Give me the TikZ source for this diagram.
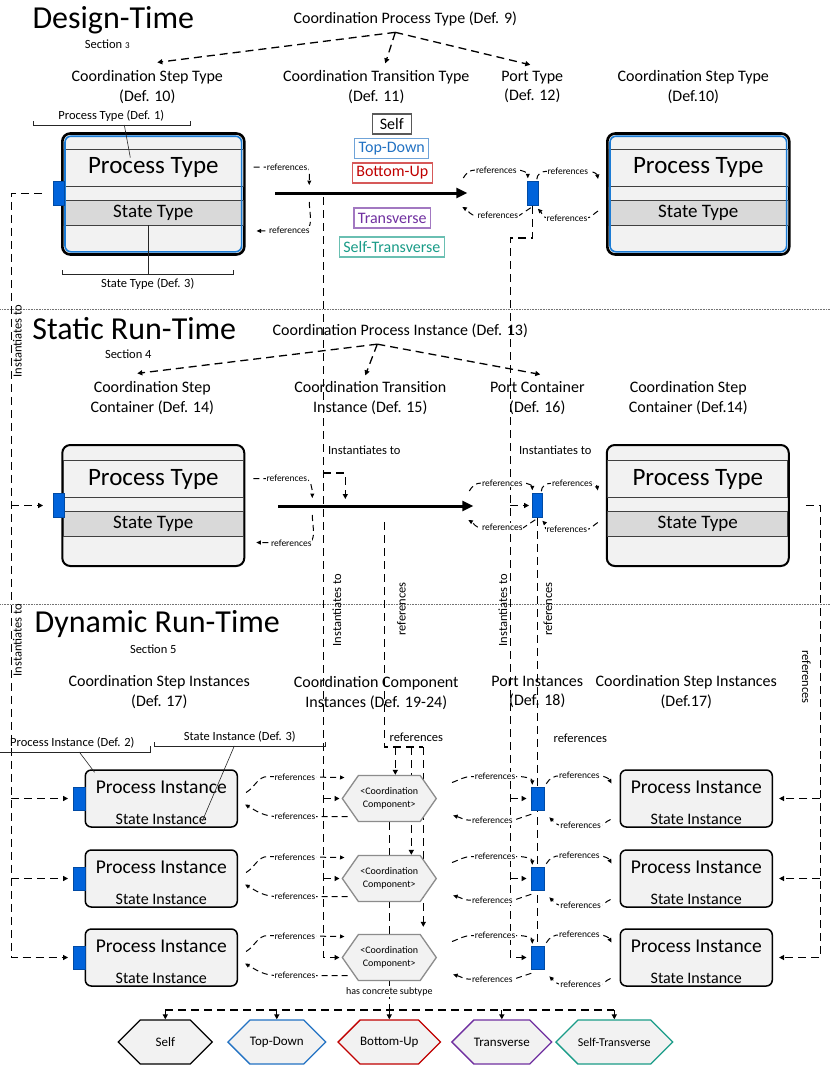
\documentclass[tikz,border=0pt]{standalone}
\usepackage{fontspec}
\setmainfont{Carlito}
\usetikzlibrary{positioning,arrows.meta,shapes.geometric,shapes.symbols,calc,backgrounds}
\definecolor{PortBlue}{HTML}{0063DB}
\definecolor{BoxFill}{HTML}{F2F2F2}
\definecolor{RowGray}{HTML}{D9D9D9}
\definecolor{RowLine}{HTML}{404040}
\definecolor{EdgeBlue}{HTML}{1C7CD5}
\definecolor{TdBlue}{HTML}{2272C3}
\definecolor{BuRed}{HTML}{C00000}
\definecolor{TvPurple}{HTML}{7030A0}
\definecolor{StTeal}{HTML}{1A9C88}
\definecolor{HexEdge}{HTML}{8C8C8C}

\begin{document}
\begin{tikzpicture}[x=1pt, y=-1pt,
  every node/.style={align=center, inner sep=0pt},
  sectitle/.style={font=\fontsize{32}{34}\selectfont},
  secnote/.style={font=\fontsize{12.5}{14}\selectfont},
  hdr/.style={font=\fontsize{16}{19.5}\selectfont},
  defnote/.style={font=\fontsize{12.5}{14}\selectfont},
  smalllbl/.style={font=\fontsize{12.5}{14}\selectfont},
  vlbl/.style={font=\fontsize{12.5}{14}\selectfont, rotate=#1},
  vlbl/.default=90,
  reflbl/.style={font=\fontsize{9.5}{10}\selectfont, fill=white, inner xsep=0.8pt, inner ysep=1pt},
  secrule/.style={densely dotted, line width=0.6pt, black!55},
  dsh/.style={dash pattern=on 8pt off 5pt, line width=1.3pt},
  darr/.style={dsh, -{Triangle[length=5pt,width=5pt]}},
  refarr/.style={dash pattern=on 6pt off 4pt, line width=1pt, -{Triangle[length=4.5pt,width=4pt]}},
  trarr/.style={line width=3pt, -{Triangle[length=11pt,width=10pt]}},
  defline/.style={line width=0.6pt, black!85},
  designbox/.style={draw, line width=2.6pt, rounded corners=8pt, fill=BoxFill, minimum width=182pt, minimum height=121pt},
  staticbox/.style={designbox, line width=2pt},
  procrow/.style={draw=RowLine, line width=0.9pt, minimum width=180pt, minimum height=37pt, font=\fontsize{25}{28}\selectfont},
  staterow/.style={draw=RowLine, line width=0.9pt, fill=RowGray, minimum width=180pt, minimum height=25pt, font=\fontsize{19}{22}\selectfont},
  port/.style={fill=PortBlue, draw=PortBlue!75!black, line width=0.5pt, minimum width=11pt, minimum height=24pt},
  instbox/.style={draw, line width=1.5pt, rounded corners=6pt, fill=BoxFill, minimum width=152pt, minimum height=57pt},
  procinst/.style={font=\fontsize{19.5}{22}\selectfont},
  stateinst/.style={font=\fontsize{16}{18}\selectfont},
  comphex/.style={signal, signal to=west and east, signal pointer angle=110, draw=HexEdge, line width=1.3pt, fill=BoxFill, minimum width=94pt, minimum height=46pt, font=\fontsize{10}{13}\selectfont},
  kindhex/.style={comphex, signal pointer angle=90, draw=#1, minimum height=44pt, font=\fontsize{13}{15}\selectfont},
  tlabel/.style={draw=#1!65, text=#1, line width=1.2pt, fill=white, inner xsep=4pt, minimum height=20pt, font=\fontsize{16}{18}\selectfont}
]
\begin{scope}[on background layer]
  \fill[white] (0,0) rectangle (830,1065);
  \draw[secrule] (0,309) -- (830,309);
  \draw[secrule] (0,604) -- (830,604);
\end{scope}
\useasboundingbox (0,0) rectangle (830,1065);

% Design-Time
\node[sectitle] (tDes) at (113,20) {Design-Time};
\node[secnote] (nDes) at (107,44) {Section {\fontsize{9}{10}\selectfont 3}};
\node[hdr] (hProcT) at (405,19) {Coordination Process Type (Def. 9)};
\node[hdr] (hStepL) at (147,87) {Coordination Step Type\\(Def. 10)};
\node[hdr] (hTrans) at (376,87) {Coordination Transition Type\\(Def. 11)};
\node[hdr] (hPortT) at (532,87) {Port Type\\(Def. 12)};
\node[hdr] (hStepR) at (693,87) {Coordination Step Type\\(Def.10)};

\node[designbox] (dStepL) at (153,194) {};
\node[designbox] (dStepR) at (698,194) {};

\node[tlabel=black, minimum width=39pt] (kSelf) at (391.5,124) {Self};
\node[tlabel=TdBlue] (kTD) at (391.5,148.5) {Top-Down};
\node[tlabel=BuRed] (kBU) at (392,173) {Bottom-Up};
\node[tlabel=TvPurple] (kTV) at (392,218) {Transverse};
\node[tlabel=StTeal] (kST) at (391.5,247) {Self-Transverse};

% Static Run-Time
\node[sectitle] (tSta) at (134,329) {Static Run-Time};
\node[secnote] (nSta) at (128,354) {Section 4};
\node[hdr] (hProcI) at (400,331) {Coordination Process Instance (Def. 13)};
\node[hdr] (hContL) at (152,398) {Coordination Step\\Container (Def. 14)};
\node[hdr] (hTrInst) at (370,398) {Coordination Transition\\Instance (Def. 15)};
\node[hdr] (hPortC) at (537,398) {Port Container\\(Def. 16)};
\node[hdr] (hContR) at (688,398) {Coordination Step\\Container (Def.14)};

\node[staticbox] (sStepL) at (153,505.5) {};
\node[staticbox] (sStepR) at (697.5,505.5) {};

\foreach \bx in {dStepL,dStepR,sStepL,sStepR} {
  \node[procrow] (\bx-p) at ([shift={(0,-26.5)}]\bx.center) {Process Type};
  \node[staterow] (\bx-s) at ([shift={(0,18.5)}]\bx.center) {State Type};
}
\foreach \bx in {dStepL,dStepR}
  \draw[EdgeBlue, line width=1.6pt, rounded corners=6pt]
    ([shift={(4,-4)}]\bx.south west) rectangle ([shift={(-4,4)}]\bx.north east);

\node[port] (dPortL) at (58.5,193.5) {};
\node[port] (dPortM) at (532.5,193.5) {};
\node[port] (sPortL) at (58.5,505.5) {};
\node[port, minimum width=10pt] (sPortM) at (537,505.5) {};

\coordinate (dTrS) at (275,193);
\coordinate (dTrE) at (467,193);
\coordinate (sTrS) at (278,506);
\coordinate (sTrE) at (473,506);
\draw[trarr] (dTrS) -- (dTrE);
\draw[trarr] (sTrS) -- (sTrE);

% Dynamic Run-Time
\node[sectitle] (tDyn) at (157,624) {Dynamic Run-Time};
\node[secnote] (nDyn) at (153,649) {Section 5};
\node[hdr] (hInstL) at (159,692) {Coordination Step Instances\\(Def. 17)};
\node[hdr] (hComp) at (376,693) {Coordination Component\\Instances (Def. 19-24)};
\node[hdr] (hPortI) at (537,692) {Port Instances\\(Def. 18)};
\node[hdr] (hInstR) at (686,692) {Coordination Step Instances\\(Def.17)};

\foreach \i/\ry in {1/798.5,2/878.5,3/957.5} {
  \node[instbox] (boxL\i) at (161,\ry) {};
  \node[procinst] (piL\i) at (161,\ry-11) {Process Instance};
  \node[stateinst] (siL\i) at (161,\ry+20.5) {State Instance};
  \node[instbox] (boxR\i) at (696,\ry) {};
  \node[procinst] (piR\i) at (696,\ry-11) {Process Instance};
  \node[stateinst] (siR\i) at (696,\ry+20.5) {State Instance};
  \node[port, minimum width=12pt, minimum height=23pt] (pL\i) at (79,\ry) {};
  \node[port, minimum width=13pt, minimum height=23pt] (pM\i) at (537,\ry) {};
  \node[comphex] (cc\i) at (389,\ry) {<Coordination\\Component>};
}

\node[kindhex=black] (bSelf) at (165,1042) {Self};
\node[kindhex=TdBlue] (bTD) at (276.5,1042) {Top-Down};
\node[kindhex=BuRed] (bBU) at (389,1042) {Bottom-Up};
\node[kindhex=TvPurple] (bTV) at (501.5,1042) {Transverse};
\node[kindhex=StTeal, font=\fontsize{12}{14}\selectfont] (bST) at (614,1042) {Self-Transverse};
\node[reflbl, font=\fontsize{10}{12}\selectfont] (tSub) at (389,992) {has concrete subtype};

% definition call-outs
\node[defnote] (defPT) at (111,116) {Process Type (Def. 1)};
\draw[defline] (33,121) |- (190,125) -- (190,121);
\draw[defline] (124,125) -- ([shift={(-23,-10)}]dStepL-p.center);
\node[defnote] (defST) at (147.5,284) {State Type (Def. 3)};
\draw[defline] (62,270) |- (233,274) -- (233,270);
\draw[defline] ([xshift=-5pt]dStepL-s.south) -- (148,274);
\node[defnote] (defPI) at (72,743) {Process Instance (Def. 2)};
\draw[defline] (0,752) -| (150,746);
\draw[defline] (79,752) -- ([shift={(10,3)}]boxL1.north west);
\node[defnote] (defSI) at (239.5,737) {State Instance (Def. 3)};
\draw[defline] (154,742) |- (325,746) -- (325,742);
\draw[defline] (234,746) -- ([shift={(41,2)}]siL1.center);

% connector labels
\node[vlbl] (vA1) at (17,341) {Instantiates to};
\node[vlbl] (vA2) at (17,640) {Instantiates to};
\node[vlbl] (vB) at (336.5,610) {Instantiates to};
\node[vlbl] (vD) at (401,609) {references};
\node[vlbl] (vC) at (502.5,610) {Instantiates to};
\node[vlbl] (vE) at (547.5,609) {references};
\node[vlbl=-90] (vF) at (806,677) {references};
\node[smalllbl] (tIB) at (364,450) {Instantiates to};
\node[smalllbl] (tIC) at (555,450) {Instantiates to};
\node[smalllbl] (tRD) at (416,737) {references};
\node[smalllbl] (tRE) at (580,738) {references};

\begin{scope}[on background layer]
  % process -> element kinds
  \coordinate (bDes) at ([shift={(-10,6)}]hProcT.south);
  \draw[darr] (bDes) -- ([shift={(10,-8)}]hStepL.north);
  \draw[darr] (bDes) -- ([shift={(9,-7)}]hTrans.north);
  \draw[darr] (bDes) -- ([shift={(-2,-6)}]hPortT.north);
  \coordinate (bSta) at ([shift={(-23,6)}]hProcI.south);
  \draw[darr] (bSta) -- ([shift={(-15,-8)}]hContL.north);
  \draw[darr] (bSta) -- ([shift={(-5,-6)}]hTrInst.north);
  \draw[darr] (bSta) -- ([shift={(3,-7)}]hPortC.north);

  % instantiation and reference rails
  \coordinate (railA) at (11,0);
  \coordinate (railB) at (323,0);
  \coordinate (railC) at (510,0);
  \coordinate (railF) at (820,0);
  \coordinate (bInst) at (323,473);
  \coordinate (sTrIn) at (345,506);
  \coordinate (cTurn) at (510,238);
  \coordinate (dSplit) at (384,747);
  \coordinate (subSplit) at (389,1010);

  \draw[darr, shorten >=5pt] ([xshift=-11pt]dPortL.west) -| (railA |- pL3) -- (pL3.west);
  \draw[darr, shorten >=10pt] (railA |- sPortL) -- (sPortL.west);
  \draw[darr, shorten >=2pt] ([shift={(48,4)}]dTrS) -- (railB |- cc3) -- (cc3.west);
  \draw[darr, shorten >=7pt] (bInst) -| (sTrIn);
  \draw[darr, shorten >=4pt] (dPortM.south) |- (cTurn) -- (railC |- pM3) -- (pM3.west);
  \draw[darr, shorten >=3pt] (railC |- sPortM) -- (sPortM.west);
  \draw[dsh] ([shift={(106,16)}]sTrS) -- (dSplit) -- ++(39,0);
  \draw[darr] ([xshift=11pt]dSplit) -- ([xshift=6pt]cc1.north);
  \draw[darr] ([xshift=27pt]dSplit) -- ([xshift=22pt]cc2.north);
  \draw[darr] ([xshift=39pt]dSplit) -- ([shift={(34,-7)}]cc3.north);
  \draw[dsh] (sPortM.south) -- (pM3.north);
  \draw[darr, shorten >=6pt] ([xshift=16pt]sStepR.east) -| (railF |- boxR3) -- (boxR3.east);
  \foreach \i in {1,2} {
    \draw[darr, shorten >=5pt] (railA |- pL\i) -- (pL\i.west);
    \draw[darr, shorten >=2pt] (railB |- cc\i) -- (cc\i.west);
    \draw[darr, shorten >=4pt] (railC |- pM\i) -- (pM\i.west);
    \draw[darr, shorten >=6pt] (railF |- boxR\i) -- (boxR\i.east);
  }

  % concrete subtypes
  \draw[dsh] (cc1.south) -- (subSplit);
  \draw[dsh] (subSplit -| bSelf) -- (subSplit -| bST);
  \foreach \k in {bSelf,bTD,bBU,bTV,bST}
    \draw[darr] (subSplit -| \k) -- (\k.north);

  % references around transitions and ports
  \foreach \lay in {d,s} {
    \draw[refarr] ([shift={(8,-27)}]\lay StepL.east) -- node[reflbl, pos=0.67] (\lay-ra) {references} ++(50,0) to[out=0,in=90] ([shift={(34,-8)}]\lay TrS);
    \draw[refarr] ([shift={(34,9)}]\lay TrS) to[out=-90,in=0] ++(-6,28) -- node[reflbl, pos=0.3] (\lay-rb) {references} ([shift={(11,37)}]\lay StepL.east);
    \draw[refarr] ([shift={(-4,-15)}]\lay TrE) to[out=60,in=180] ++(12,-8) -- node[reflbl] (\lay-rc) {references} ++(42,0) to[out=0,in=90] ([shift={(-5,-3)}]\lay PortM.north);
    \draw[refarr] ([shift={(4,-2)}]\lay PortM.north) to[out=90,in=180] ++(10,-8) -- node[reflbl] (\lay-rd) {references} ++(42,0) to[out=0,in=100] ([shift={(-8,-15)}]\lay StepR.west);
    \draw[refarr] ([shift={(-2,2)}]\lay PortM.south) -- ++(-12,8) -- node[reflbl] (\lay-re) {references} ++(-42,0) to[out=180,in=-30] ([shift={(-5,14)}]\lay TrE);
    \draw[refarr] ([shift={(-8,17)}]\lay StepR.west) to[out=-150,in=0] ++(-12,7) -- node[reflbl] (\lay-rf) {references} ++(-38,0) to[out=180,in=-45] ([shift={(5,3)}]\lay PortM.south);
  }
  \foreach \i in {1,2,3} {
    \draw[refarr] ([shift={(8,-6)}]boxL\i.east) to[out=30,in=180] ++(22,-16) -- node[reflbl, pos=0.35] (ra\i) {references} ([shift={(3,-21)}]cc\i.west);
    \draw[refarr] ([shift={(6,18)}]cc\i.west) -- node[reflbl, pos=0.75] (rb\i) {references} ++(-70,0) to[out=180,in=-30] ([shift={(7,6)}]boxL\i.east);
    \draw[refarr] ([shift={(15,-16)}]cc\i.east) to[out=20,in=180] ++(20,-6) -- node[reflbl] (rc\i) {references} ++(46,0) to[out=0,in=90] ([shift={(-5,-2)}]pM\i.north);
    \draw[refarr] ([shift={(-6,4)}]pM\i.south) -- ++(-18,6) -- node[reflbl] (rd\i) {references} ++(-42,0) to[out=180,in=-15] ([shift={(16,17)}]cc\i.east);
    \draw[refarr] ([shift={(9,-3)}]pM\i.north) to[out=60,in=180] ++(14,-8) -- node[reflbl] (re\i) {references} ++(38,0) to[out=0,in=120] ([shift={(-8,-15)}]boxR\i.west);
    \draw[refarr] ([shift={(-9,21)}]boxR\i.west) to[out=-160,in=0] ++(-12,6) -- node[reflbl] (rf\i) {references} ++(-36,0) to[out=180,in=-45] ([shift={(12,7)}]pM\i.south);
  }
\end{scope}
\end{tikzpicture}
\end{document}
